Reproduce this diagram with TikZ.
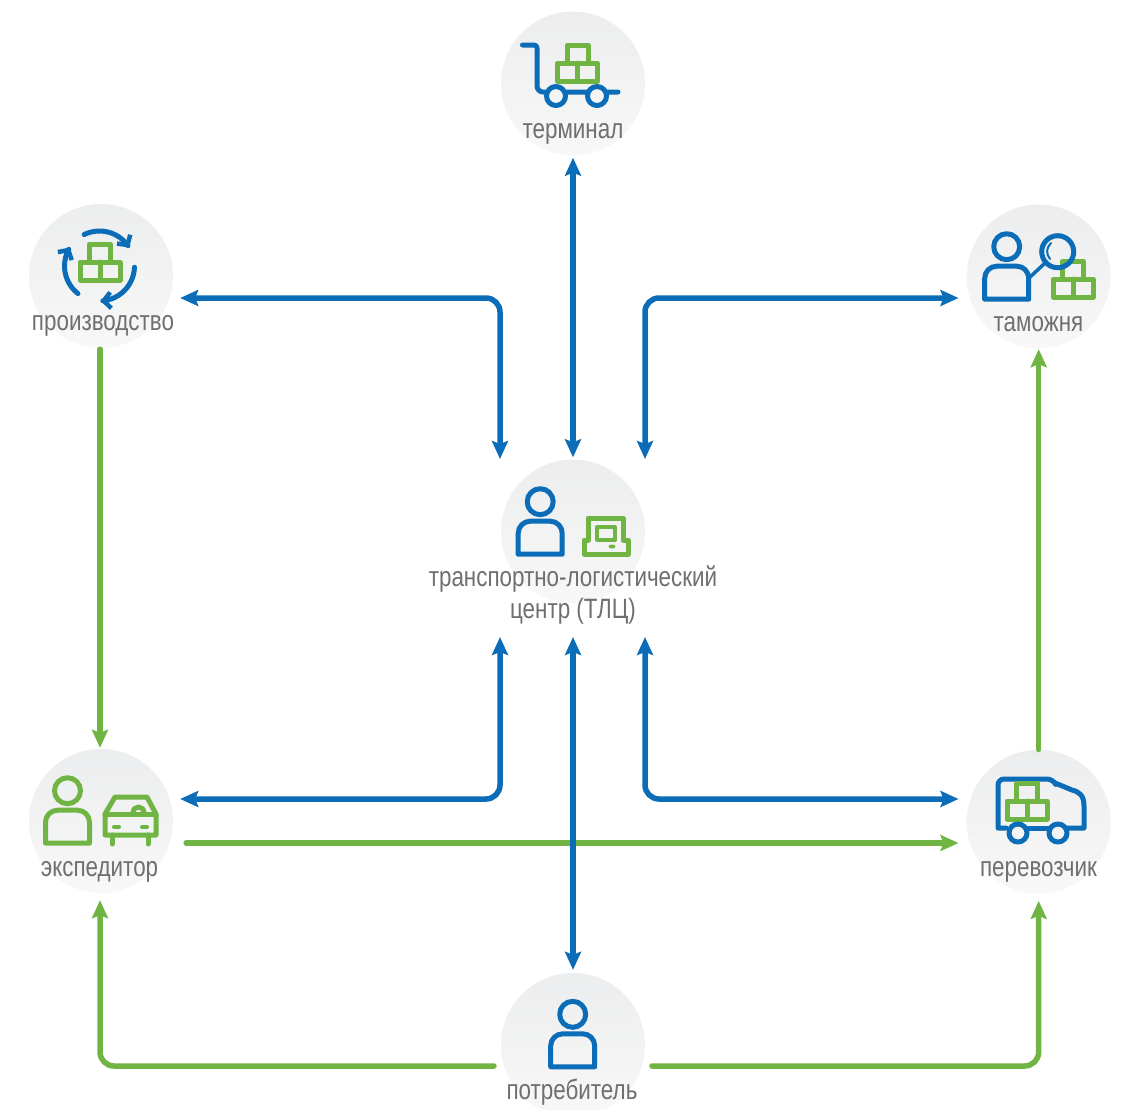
\documentclass[tikz,border=0pt]{standalone}
\usepackage{fontspec}
\setmainfont[FakeStretch=0.8]{Liberation Sans}
\usetikzlibrary{arrows.meta}
\definecolor{lblue}{HTML}{0B6DB7}
\definecolor{lgreen}{HTML}{70B544}
\definecolor{ltext}{HTML}{6F6F6F}
\definecolor{discA}{HTML}{ECEDEE}
\definecolor{discB}{HTML}{F8F8F8}
\definecolor{discM}{HTML}{F3F4F4}
\tikzset{
  x=1pt,y=-1pt,
  disc/.style={circle,minimum size=144pt,inner sep=0pt,top color=discA,bottom color=discB,draw=none},
  lab/.style={font=\fontsize{28}{32}\selectfont,text=ltext,align=center,inner sep=0pt},
  bluelink/.style={draw=lblue,line width=5.5pt,line cap=round,rounded corners=14pt,>={Stealth[length=18pt,width=16pt,inset=3pt]},<->},
  greenlink/.style={draw=lgreen,line width=5.5pt,line cap=round,rounded corners=14pt,>={Stealth[length=18pt,width=16pt,inset=3pt]},->},
  ico/.style={line width=5pt,line join=round,line cap=round},
  cyc/.style={ico,draw=lblue,>={Straight Barb[length=7pt,width=16pt,line width=4.5pt]},->},
  personpic/.pic={
    \draw[ico,draw=#1] (0,0) circle[radius=13pt];
    \draw[ico,draw=#1] (-22,52.5) [rounded corners=12pt] -- (-22,19.5) -- (22,19.5) [sharp corners] -- (22,52.5) -- cycle;
  },
  boxespic/.pic={
    \draw[ico,draw=lgreen] (-10.5,-18) rectangle (10.5,0);
    \draw[ico,draw=lgreen] (-20,0) rectangle (20,18);
    \draw[ico,draw=lgreen] (0,0) -- (0,18);
  },
}
\begin{document}
\begin{tikzpicture}
\useasboundingbox (0,0) rectangle (1122,1109);
% discs
\node[disc] (term) at (573,83.5) {};
\node[disc] (prod) at (101,276) {};
\node[disc] (cust) at (1038.7,276.5) {};
\node[disc] (tlc)  at (573,531.5) {};
\node[disc] (expd) at (101,821) {};
\node[disc] (carr) at (1038.7,821.7) {};
\node[disc] (cons) at (573,1045) {};
% labels
\node[lab] (lterm) at (573,134) {терминал};
\node[lab] (lprod) at (103,326) {производство};
\node[lab] (lcust) at (1038.5,324) {таможня};
\node[lab] (ltlc)  at (573,595) {транспортно-логистический\\центр (ТЛЦ)};
\node[lab] (lexpd) at (99.5,872) {экспедитор};
\node[lab] (lcarr) at (1038.5,872) {перевозчик};
\node[lab] (lcons) at (572,1092) {потребитель};
% green connectors
\draw[greenlink] ([shift={(-1,1)}]prod.south) -- ([shift={(-1,-1)}]expd.north);
\draw[greenlink] ([shift={(13,22)}]expd.east) -- ([shift={(-8,21.3)}]carr.west);
\draw[greenlink] (carr.north) -- ([yshift=-0.5pt]cust.south);
\draw[greenlink] ([shift={(-79,21)}]cons.center) -| ([shift={(-1,7)}]expd.south);
\draw[greenlink] ([shift={(79,21)}]cons.center) -| ([yshift=-7pt]carr.south);
% blue connectors
\draw[bluelink] ([yshift=-2pt]term.south) -- ([yshift=2pt]tlc.north);
\draw[bluelink] ([shift={(7,22)}]prod.east) -| ([shift={(-73,-72.5)}]tlc.center);
\draw[bluelink] ([shift={(72,-72.5)}]tlc.center) |- ([shift={(-8,21.5)}]cust.west);
\draw[bluelink] ([shift={(0,105.5)}]tlc.center) -- ([yshift=3pt]cons.north);
\draw[bluelink] ([shift={(7,-22)}]expd.east) -| ([shift={(-73,105.5)}]tlc.center);
\draw[bluelink] ([shift={(-8,-22.7)}]carr.west) -| ([shift={(72,105.5)}]tlc.center);
% icon: terminal
\pic at (577.5,63) {boxespic};
\draw[ico,draw=lblue] (522.5,45) [rounded corners=3pt] -- (537,45) [rounded corners=6pt] -- (537,92) -- (618,92);
\draw[ico,draw=lblue,fill=discM] (556,96) circle[radius=9.5pt];
\draw[ico,draw=lblue,fill=discM] (597,96) circle[radius=9.5pt];
% icon: production
\pic at (100,262) {boxespic};
\draw[cyc] plot[smooth,domain=-116:-32,samples=15] ({99.5+35*cos(\x)},{266+35*sin(\x)});
\draw[cyc] plot[smooth,domain=2:88,samples=15] ({99.5+35*cos(\x)},{266+35*sin(\x)});
\draw[cyc] plot[smooth,domain=128:212,samples=15] ({99.5+35*cos(\x)},{266+35*sin(\x)});
% icon: customs
\pic at (1073,279) {boxespic};
\pic at (1006.7,246.7) {personpic=lblue};
\draw[ico,draw=lblue] (1057.7,251.7) circle[radius=16pt];
\draw[ico,draw=lblue,line width=3.5pt] (1044,264) -- (1029,278);
\draw[draw=lblue,line width=2pt,line cap=round] (1051,243) .. controls (1046,248) and (1046,254) .. (1050,259);
% icon: centre
\pic at (540.2,501.7) {personpic=lblue};
\draw[ico,draw=lgreen] (588,540) -- (588,518) -- (623,518) -- (623,540) -- (628,540) -- (628,554) -- (584,554) -- (584,540) -- cycle;
\draw[ico,draw=lgreen,line width=4pt] (597,527) rectangle (615,540);
\fill[lgreen] (612,546.5) ellipse[x radius=3.5pt,y radius=2pt];
% icon: forwarder
\pic at (67.5,790.7) {personpic=lgreen};
\draw[ico,draw=lgreen] (105,835) -- (105,814) -- (115,797) -- (147,797) -- (156,814) -- (156,835) -- cycle;
\draw[ico,draw=lgreen] (105,814) -- (156,814);
\draw[ico,draw=lgreen] (112,835) -- (112,844);
\draw[ico,draw=lgreen] (148,835) -- (148,844);
\draw[ico,draw=lgreen] (133,813) .. controls (133,805) and (144,805) .. (144,813);
\draw[draw=lgreen,line width=4pt,line cap=round] (114,827) -- (119,827);
\draw[draw=lgreen,line width=4pt,line cap=round] (142,827) -- (147,827);
% icon: carrier
\draw[ico,draw=lblue] (1053,828) -- (1084,828) -- (1084,806) .. controls (1084,796) and (1080,792) .. (1072,790) -- (1055,783) ;
\draw[ico,draw=lblue] (1006,828) -- (998,828) [rounded corners=6pt] -- (998,779) -- (1053,779) [sharp corners] -- (1055,783);
\pic at (1027,801) {boxespic};
\draw[ico,draw=lblue,fill=discM] (1018,833) circle[radius=9pt];
\draw[ico,draw=lblue,fill=discM] (1058,833) circle[radius=9pt];
\draw[ico,draw=lblue] (1027,828) -- (1049,828);
% icon: consumer
\pic at (572.7,1014.3) {personpic=lblue};
\end{tikzpicture}
\end{document}
